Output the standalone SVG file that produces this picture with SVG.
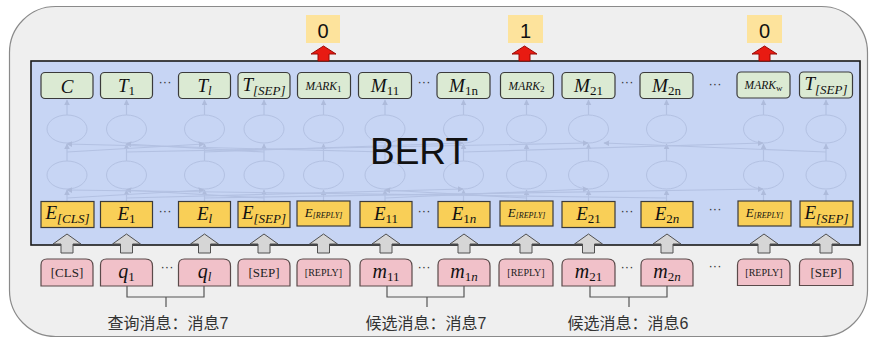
<svg xmlns="http://www.w3.org/2000/svg" width="870" height="340" viewBox="0 0 870 340">
<defs>
<style>
.outer{fill:#efefef;stroke:#8a8a8a;stroke-width:1.2}
.bert{fill:#c7d5f4;stroke:#1a1a1a;stroke-width:1.6}
.g{fill:#dbead3;stroke:#3a3a3a;stroke-width:1.2}
.y{fill:#f9cf57;stroke:#3a3a3a;stroke-width:1.2}
.p{fill:#f1c1c9;stroke:#5a4a4a;stroke-width:1.2}
.out{fill:#fde39c}
.m{font-family:"Liberation Serif","DejaVu Serif",serif;font-style:italic;fill:#111;text-anchor:middle}
.r{font-family:"Liberation Serif","DejaVu Serif",serif;fill:#222;text-anchor:middle}
.s{font-family:"Liberation Sans",Arial,sans-serif;fill:#111;text-anchor:middle}
.cn{font-family:"Liberation Sans","Noto Sans CJK SC",sans-serif;fill:#333;text-anchor:middle;font-size:16px}
.dots{font-family:"Liberation Sans",Arial,sans-serif;fill:#333;font-size:13px;text-anchor:middle}
.net ellipse{fill:none;stroke:#b3c1e2;stroke-width:1}
.net line{stroke:#b3c1e2;stroke-width:1.2;marker-end:url(#fa)}
.ga{fill:#d6d6d6;stroke:#505050;stroke-width:1}
.ra{fill:#e81b12;stroke:#9a0a05;stroke-width:1}
.br{fill:none;stroke:#555;stroke-width:1.2}
</style>
<marker id="fa" viewBox="0 0 10 10" refX="9" refY="5" markerWidth="5" markerHeight="5" orient="auto"><path d="M0,0L10,5L0,10z" fill="#aebbdb"/></marker>
<path id="gar" d="M0,-10 L14,0 L6,0 L6,9 L-6,9 L-6,0 L-14,0 Z"/>
<path id="rar" d="M0,-8 L12.5,0 L5.5,0 L5.5,7 L-5.5,7 L-5.5,0 L-12.5,0 Z"/>
</defs>

<rect class="outer" x="9.5" y="6.5" width="858" height="330" rx="46"/>
<rect class="bert" x="31" y="61" width="829" height="184"/>

<g class="net" id="network">
<ellipse cx="67" cy="129" rx="20" ry="14"/><ellipse cx="67" cy="175" rx="20" ry="14"/>
<ellipse cx="126.5" cy="129" rx="20" ry="14"/><ellipse cx="126.5" cy="175" rx="20" ry="14"/>
<ellipse cx="204.5" cy="129" rx="20" ry="14"/><ellipse cx="204.5" cy="175" rx="20" ry="14"/>
<ellipse cx="264" cy="129" rx="20" ry="14"/><ellipse cx="264" cy="175" rx="20" ry="14"/>
<ellipse cx="323.5" cy="129" rx="20" ry="14"/><ellipse cx="323.5" cy="175" rx="20" ry="14"/>
<ellipse cx="385" cy="129" rx="20" ry="14"/><ellipse cx="385" cy="175" rx="20" ry="14"/>
<ellipse cx="463.5" cy="129" rx="20" ry="14"/><ellipse cx="463.5" cy="175" rx="20" ry="14"/>
<ellipse cx="526.5" cy="129" rx="20" ry="14"/><ellipse cx="526.5" cy="175" rx="20" ry="14"/>
<ellipse cx="588.5" cy="129" rx="20" ry="14"/><ellipse cx="588.5" cy="175" rx="20" ry="14"/>
<ellipse cx="666.5" cy="129" rx="20" ry="14"/><ellipse cx="666.5" cy="175" rx="20" ry="14"/>
<ellipse cx="763.5" cy="129" rx="20" ry="14"/><ellipse cx="763.5" cy="175" rx="20" ry="14"/>
<ellipse cx="826" cy="129" rx="20" ry="14"/><ellipse cx="826" cy="175" rx="20" ry="14"/>
<line x1="67" y1="201" x2="67" y2="190"/><line x1="67" y1="161" x2="67" y2="144"/><line x1="67" y1="115" x2="67" y2="100"/>
<line x1="126.5" y1="201" x2="126.5" y2="190"/><line x1="126.5" y1="161" x2="126.5" y2="144"/><line x1="126.5" y1="115" x2="126.5" y2="100"/>
<line x1="204.5" y1="201" x2="204.5" y2="190"/><line x1="204.5" y1="161" x2="204.5" y2="144"/><line x1="204.5" y1="115" x2="204.5" y2="100"/>
<line x1="264" y1="201" x2="264" y2="190"/><line x1="264" y1="161" x2="264" y2="144"/><line x1="264" y1="115" x2="264" y2="100"/>
<line x1="323.5" y1="201" x2="323.5" y2="190"/><line x1="323.5" y1="161" x2="323.5" y2="144"/><line x1="323.5" y1="115" x2="323.5" y2="100"/>
<line x1="385" y1="201" x2="385" y2="190"/><line x1="385" y1="161" x2="385" y2="144"/><line x1="385" y1="115" x2="385" y2="100"/>
<line x1="463.5" y1="201" x2="463.5" y2="190"/><line x1="463.5" y1="161" x2="463.5" y2="144"/><line x1="463.5" y1="115" x2="463.5" y2="100"/>
<line x1="526.5" y1="201" x2="526.5" y2="190"/><line x1="526.5" y1="161" x2="526.5" y2="144"/><line x1="526.5" y1="115" x2="526.5" y2="100"/>
<line x1="588.5" y1="201" x2="588.5" y2="190"/><line x1="588.5" y1="161" x2="588.5" y2="144"/><line x1="588.5" y1="115" x2="588.5" y2="100"/>
<line x1="666.5" y1="201" x2="666.5" y2="190"/><line x1="666.5" y1="161" x2="666.5" y2="144"/><line x1="666.5" y1="115" x2="666.5" y2="100"/>
<line x1="763.5" y1="201" x2="763.5" y2="190"/><line x1="763.5" y1="161" x2="763.5" y2="144"/><line x1="763.5" y1="115" x2="763.5" y2="100"/>
<line x1="826" y1="201" x2="826" y2="190"/><line x1="826" y1="161" x2="826" y2="144"/><line x1="826" y1="115" x2="826" y2="100"/>
<line x1="67" y1="198" x2="204" y2="190"/><line x1="126" y1="198" x2="463" y2="189"/><line x1="264" y1="198" x2="126" y2="190"/>
<line x1="385" y1="198" x2="588" y2="189"/><line x1="204" y1="198" x2="763" y2="189"/><line x1="526" y1="198" x2="385" y2="190"/>
<line x1="666" y1="198" x2="67" y2="190"/>
<line x1="67" y1="152" x2="204" y2="144"/><line x1="126" y1="152" x2="588" y2="143"/><line x1="264" y1="152" x2="126" y2="144"/>
<line x1="463" y1="152" x2="763" y2="143"/><line x1="204" y1="152" x2="463" y2="143"/><line x1="826" y1="152" x2="604" y2="143"/>
<line x1="385" y1="152" x2="67" y2="144"/>
</g>

<text class="s" x="419" y="164" font-size="37">BERT</text>

<g id="outputs">
<g id="out-1"><rect class="out" x="306" y="15" width="34" height="28"/><text class="s" x="323" y="38" font-size="20" fill="#333">0</text></g>
<g id="out-2"><rect class="out" x="508" y="15" width="35" height="28"/><text class="s" x="525.5" y="38" font-size="20" fill="#333">1</text></g>
<g id="out-3"><rect class="out" x="747" y="15" width="35" height="28"/><text class="s" x="764.5" y="38" font-size="20" fill="#333">0</text></g>
</g>

<g id="top-tokens">
<g id="t-c"><rect class="g" x="41" y="72.5" width="52" height="26" rx="4"/><text class="m" x="67" y="93" font-size="19">C</text></g>
<g id="t-1"><rect class="g" x="100.5" y="72.5" width="52" height="26" rx="4"/><text class="m" x="126.5" y="92" font-size="19">T<tspan font-style="normal" font-size="13" dy="3">1</tspan></text></g>
<g id="t-l"><rect class="g" x="178.5" y="72.5" width="52" height="26" rx="4"/><text class="m" x="204.5" y="92" font-size="19">T<tspan font-size="13" dy="3">l</tspan></text></g>
<g id="t-sep1"><rect class="g" x="238" y="72.5" width="52" height="26" rx="4"/><text class="m" x="264" y="91" font-size="19">T<tspan font-size="13" dy="4">[SEP]</tspan></text></g>
<g id="t-mark1"><rect class="g" x="297.5" y="72.5" width="53" height="26" rx="4"/><text class="m" x="323.5" y="90" font-size="11.5">MARK<tspan font-style="normal" font-size="9" dy="2">1</tspan></text></g>
<g id="t-m11"><rect class="g" x="358.5" y="72.5" width="53" height="26" rx="4"/><text class="m" x="385" y="92" font-size="19">M<tspan font-style="normal" font-size="13" dy="3">11</tspan></text></g>
<g id="t-m1n"><rect class="g" x="437" y="72.5" width="53" height="26" rx="4"/><text class="m" x="463.5" y="92" font-size="19">M<tspan font-style="normal" font-size="13" dy="3">1n</tspan></text></g>
<g id="t-mark2"><rect class="g" x="500.5" y="72.5" width="53" height="26" rx="4"/><text class="m" x="526.5" y="90" font-size="11.5">MARK<tspan font-style="normal" font-size="9" dy="2">2</tspan></text></g>
<g id="t-m21"><rect class="g" x="562" y="72.5" width="53" height="26" rx="4"/><text class="m" x="588.5" y="92" font-size="19">M<tspan font-style="normal" font-size="13" dy="3">21</tspan></text></g>
<g id="t-m2n"><rect class="g" x="640" y="72.5" width="53" height="26" rx="4"/><text class="m" x="666.5" y="92" font-size="19">M<tspan font-style="normal" font-size="13" dy="3">2n</tspan></text></g>
<g id="t-markw"><rect class="g" x="737" y="72" width="53" height="26" rx="4"/><text class="m" x="763.5" y="89" font-size="11.5">MARK<tspan font-style="normal" font-size="9" dy="2">w</tspan></text></g>
<g id="t-sep2"><rect class="g" x="799.5" y="72" width="53" height="26" rx="4"/><text class="m" x="826" y="90" font-size="19">T<tspan font-size="13" dy="4">[SEP]</tspan></text></g>
<text class="dots" x="165" y="86">···</text>
<text class="dots" x="424" y="86">···</text>
<text class="dots" x="627" y="86">···</text>
<text class="dots" x="715" y="88">···</text>
</g>

<g id="embeddings">
<g id="e-cls"><rect class="y" x="41" y="201.5" width="53" height="26"/><text class="m" x="67.5" y="219" font-size="19">E<tspan font-size="13" dy="4">[CLS]</tspan></text></g>
<g id="e-1"><rect class="y" x="100.5" y="201.5" width="52" height="26"/><text class="m" x="126.5" y="220" font-size="19">E<tspan font-style="normal" font-size="13" dy="3">1</tspan></text></g>
<g id="e-l"><rect class="y" x="178.5" y="201.5" width="52" height="26"/><text class="m" x="204.5" y="220" font-size="19">E<tspan font-size="13" dy="3">l</tspan></text></g>
<g id="e-sep1"><rect class="y" x="238" y="201.5" width="52" height="26"/><text class="m" x="264" y="219" font-size="19">E<tspan font-size="13" dy="4">[SEP]</tspan></text></g>
<g id="e-reply1"><rect class="y" x="297" y="201" width="53" height="25"/><text class="m" x="323.5" y="217" font-size="13">E<tspan font-size="8" dy="1">[REPLY]</tspan></text></g>
<g id="e-11"><rect class="y" x="360" y="201.5" width="52" height="26"/><text class="m" x="386" y="220" font-size="19">E<tspan font-style="normal" font-size="13" dy="3">11</tspan></text></g>
<g id="e-1n"><rect class="y" x="438" y="201.5" width="52" height="26"/><text class="m" x="464" y="220" font-size="19">E<tspan font-size="13" dy="3"><tspan font-style="normal">1</tspan>n</tspan></text></g>
<g id="e-reply2"><rect class="y" x="500" y="201" width="53" height="25"/><text class="m" x="526.5" y="217" font-size="13">E<tspan font-size="8" dy="1">[REPLY]</tspan></text></g>
<g id="e-21"><rect class="y" x="562" y="201.5" width="53" height="26"/><text class="m" x="588.5" y="220" font-size="19">E<tspan font-style="normal" font-size="13" dy="3">21</tspan></text></g>
<g id="e-2n"><rect class="y" x="641" y="201.5" width="52" height="26"/><text class="m" x="667" y="220" font-size="19">E<tspan font-size="13" dy="3"><tspan font-style="normal">2</tspan>n</tspan></text></g>
<g id="e-reply3"><rect class="y" x="738" y="201" width="53" height="25"/><text class="m" x="764.5" y="217" font-size="13">E<tspan font-size="8" dy="1">[REPLY]</tspan></text></g>
<g id="e-sep2"><rect class="y" x="800" y="201" width="53" height="26"/><text class="m" x="826.5" y="219" font-size="19">E<tspan font-size="13" dy="4">[SEP]</tspan></text></g>
<text class="dots" x="165" y="215">···</text>
<text class="dots" x="424" y="215">···</text>
<text class="dots" x="627" y="215">···</text>
<text class="dots" x="715" y="213">···</text>
</g>

<g id="inputs">
<g id="i-cls"><path class="p" d="M41,286 V265 Q41,259 47,259 H86 Q93,259 93,266 V286 Z"/><text class="r" x="67" y="277" font-size="13">[CLS]</text></g>
<g id="i-q1"><path class="p" d="M100.5,286 V265 Q100.5,259 106.5,259 H145.5 Q152.5,259 152.5,266 V286 Z"/><text class="m" x="126.5" y="278" font-size="20">q<tspan font-style="normal" font-size="13" dy="3">1</tspan></text></g>
<g id="i-ql"><path class="p" d="M178.5,286 V265 Q178.5,259 184.5,259 H223.5 Q230.5,259 230.5,266 V286 Z"/><text class="m" x="204.5" y="278" font-size="20">q<tspan font-size="13" dy="3">l</tspan></text></g>
<g id="i-sep1"><path class="p" d="M238,286 V265 Q238,259 244,259 H283 Q290,259 290,266 V286 Z"/><text class="r" x="264" y="277" font-size="13">[SEP]</text></g>
<g id="i-reply1"><path class="p" d="M297,286 V265 Q297,259 303,259 H343 Q350,259 350,266 V286 Z"/><text class="r" x="323.5" y="276" font-size="10">[REPLY]</text></g>
<g id="i-m11"><path class="p" d="M360,286 V265 Q360,259 366,259 H405 Q412,259 412,266 V286 Z"/><text class="m" x="386" y="278" font-size="20">m<tspan font-style="normal" font-size="13" dy="3">11</tspan></text></g>
<g id="i-m1n"><path class="p" d="M438,286 V265 Q438,259 444,259 H483 Q490,259 490,266 V286 Z"/><text class="m" x="464" y="278" font-size="20">m<tspan font-size="13" dy="3"><tspan font-style="normal">1</tspan>n</tspan></text></g>
<g id="i-reply2"><path class="p" d="M499,286 V265 Q499,259 505,259 H546 Q553,259 553,266 V286 Z"/><text class="r" x="526" y="276" font-size="10">[REPLY]</text></g>
<g id="i-m21"><path class="p" d="M562,286 V265 Q562,259 568,259 H608 Q615,259 615,266 V286 Z"/><text class="m" x="588.5" y="278" font-size="20">m<tspan font-style="normal" font-size="13" dy="3">21</tspan></text></g>
<g id="i-m2n"><path class="p" d="M641,286 V265 Q641,259 647,259 H686 Q693,259 693,266 V286 Z"/><text class="m" x="667" y="278" font-size="20">m<tspan font-size="13" dy="3"><tspan font-style="normal">2</tspan>n</tspan></text></g>
<g id="i-reply3"><path class="p" d="M737.5,285.5 V265 Q737.5,259 743.5,259 H783 Q790,259 790,266 V285.5 Z"/><text class="r" x="764" y="276" font-size="10">[REPLY]</text></g>
<g id="i-sep2"><path class="p" d="M799.5,285.5 V265 Q799.5,259 805.5,259 H846 Q853,259 853,266 V285.5 Z"/><text class="r" x="826" y="277" font-size="13">[SEP]</text></g>
<text class="dots" x="167" y="271">···</text>
<text class="dots" x="424" y="271">···</text>
<text class="dots" x="627" y="271">···</text>
<text class="dots" x="715" y="270">···</text>
</g>

<g id="connectors">
<use href="#gar" class="ga" x="67" y="244"/>
<use href="#gar" class="ga" x="126.5" y="244"/>
<use href="#gar" class="ga" x="204.5" y="244"/>
<use href="#gar" class="ga" x="264" y="244"/>
<use href="#gar" class="ga" x="323.5" y="244"/>
<use href="#gar" class="ga" x="386" y="244"/>
<use href="#gar" class="ga" x="464" y="244"/>
<use href="#gar" class="ga" x="526" y="244"/>
<use href="#gar" class="ga" x="588.5" y="244"/>
<use href="#gar" class="ga" x="667" y="244"/>
<use href="#gar" class="ga" x="764" y="244"/>
<use href="#gar" class="ga" x="826" y="244"/>
<use href="#rar" class="ra" x="323.5" y="54"/>
<use href="#rar" class="ra" x="524.5" y="54"/>
<use href="#rar" class="ra" x="764.5" y="54"/>
<path class="br" d="M127,286 V297 H204 V286 M166,297 V307"/>
<path class="br" d="M387,286 V297 H464 V286 M427,297 V307"/>
<path class="br" d="M590,286 V297 H667 V286 M629,297 V307"/>
</g>

<g id="labels">
<text class="cn" x="168" y="329">查询消息：消息7</text>
<text class="cn" x="426" y="329">候选消息：消息7</text>
<text class="cn" x="628" y="329">候选消息：消息6</text>
</g>
</svg>
